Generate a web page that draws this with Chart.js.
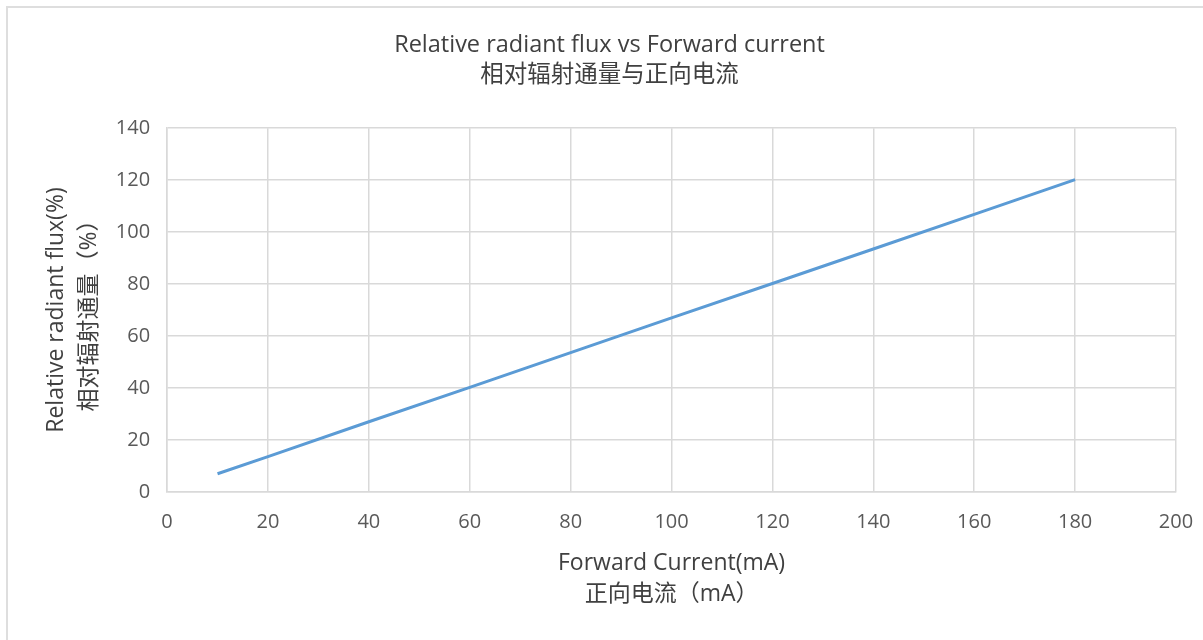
<!DOCTYPE html>
<html>
<head>
<meta charset="utf-8">
<script src="https://cdn.jsdelivr.net/npm/chart.js@4"></script>
<style>
  html, body { margin: 0; padding: 0; background: #fff; overflow: hidden; }
  #frame { position: absolute; left: 6px; top: 6px; right: -4px; bottom: -4px; border-left: 2px solid #dedede; border-top: 2px solid #dedede; }
  #wrap { position: absolute; left: 0; top: 0; width: 1203px; height: 640px; }
</style>
</head>
<body>
<div id="frame"></div>
<div id="wrap"><canvas id="chart" width="1203" height="640"></canvas></div>
<script>
const currents = [10, 20, 40, 60, 80, 100, 120, 140, 160, 180];
const flux = [7, 13.6, 27, 40.2, 53.6, 67, 80.2, 93.5, 106.8, 120.2];

const titleLines = ["Relative radiant flux vs Forward current", "相对辐射通量与正向电流"];
const xTitle = ["Forward Current(mA)", "正向电流（mA）"];
const yTitle = ["Relative radiant flux(%)", "相对辐射通量（%）"];

const fontFamily = "'Open Sans', 'Noto Sans CJK SC', sans-serif";

const ctx = document.getElementById("chart").getContext("2d");
new Chart(ctx, {
    type: "line",
    data: {
        datasets: [
            {
                label: "flux",
                data: currents.map((c, i) => ({x: c, y: flux[i]})),
                borderColor: "#5b9bd5",
                borderWidth: 3,
                pointRadius: 0,
                tension: 0,
            },
        ],
    },
    options: {
        responsive: false,
        animation: false,
        layout: {
            padding: {left: 19, right: 3, top: 0, bottom: 30},
        },
        plugins: {
            legend: {display: false},
            tooltip: {enabled: false},
            title: {
                display: true,
                text: titleLines,
                color: "#404040",
                font: {size: 23.5, family: fontFamily, weight: "normal", lineHeight: 1.28},
                padding: {top: 30, bottom: 38},
            },
        },
        scales: {
            x: {
                type: "linear",
                min: 0,
                max: 200,
                afterFit: (scale) => { scale.paddingRight = 27; },
                ticks: {
                    stepSize: 20,
                    color: "#595959",
                    padding: 18,
                    font: {size: 20, family: fontFamily},
                },
                grid: {color: "#d9d9d9", lineWidth: 1.5, drawTicks: false},
                border: {color: "#d9d9d9", width: 1.5},
                title: {
                    display: true,
                    text: xTitle,
                    color: "#404040",
                    font: {size: 23, family: fontFamily, lineHeight: 1.35},
                    padding: {top: -4, bottom: 0},
                },
            },
            y: {
                min: 0,
                max: 140,
                ticks: {
                    stepSize: 20,
                    color: "#595959",
                    padding: 17,
                    font: {size: 20, family: fontFamily},
                },
                grid: {color: "#d9d9d9", lineWidth: 1.5, drawTicks: false},
                border: {color: "#d9d9d9", width: 1.5},
                title: {
                    display: true,
                    text: yTitle,
                    color: "#404040",
                    font: {size: 23, family: fontFamily, lineHeight: 1.43},
                    padding: {top: 21, bottom: -7},
                },
            },
        },
    },
});
</script>
</body>
</html>
